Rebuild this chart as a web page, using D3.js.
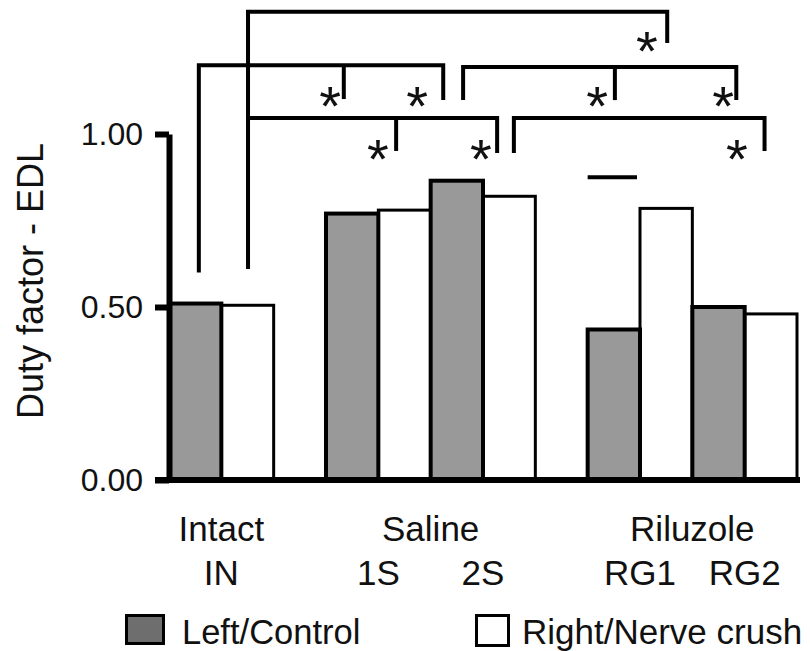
<!DOCTYPE html>
<html><head><meta charset="utf-8">
<script src="https://cdn.jsdelivr.net/npm/d3@7"></script>
<style>
html,body{margin:0;padding:0;background:#fff;}
svg{display:block;}
text{font-family:"Liberation Sans",Arial,sans-serif;fill:#111;}
</style></head><body>
<svg id="chart" width="810" height="651"></svg>
<script>
// ---- data ----
const groups = ["IN", "1S", "2S", "RG1", "RG2"];
const treatments = ["Intact", "Saline", "Saline", "Riluzole", "Riluzole"];
const leftControl = [0.51, 0.77, 0.865, 0.435, 0.50];
const rightCrush  = [0.505, 0.78, 0.82, 0.785, 0.48];
const seriesNames = ["Left/Control", "Right/Nerve crush"];
const yTicks = [0, 0.5, 1];
const yLabel = "Duty factor - EDL";
// horizontal marker above RG1 (value units)
const markerGroup = "RG1";
const markerValue = 0.875;
// significance brackets, positions in slot units (x) and duty-factor units (y)
const bracketLegs = [          // [xSlot, bottomValue] pairs joined at level
  [[1.51, 0.61], [9.52, 1.263]],
  [[0.57, 0.60], [5.24, 1.098]],
  [[5.62, 1.098], [10.84, 1.098]],
  [[1.51, 1.046], [6.27, 0.945]],
  [[6.59, 0.945], [11.38, 0.951]]
];
const bracketLevels = [1.353, 1.199, 1.194, 1.046, 1.046];
const bracketTicks = [[], [3.34], [8.52], [4.34], []];
const bracketTickEnds = [0, 1.101, 1.098, 0.951, 0];
const starX = [9.13, 3.08, 4.74, 8.18, 10.59, 3.99, 5.96, 10.85];
const starY = [1.277, 1.117, 1.117, 1.117, 1.117, 0.963, 0.963, 0.963];

// ---- layout ----
const svg = d3.select("#chart");
svg.append("rect").attr("width", 810).attr("height", 651).attr("fill", "#fff");

// slot positions: 2 slots per group, one empty slot between treatments
const slotStart = [];
let gapCount = 0;
groups.forEach((g, i) => {
  if (i > 0 && treatments[i] !== treatments[i - 1]) gapCount++;
  slotStart.push(i * 2 + gapCount);
});
const nSlots = slotStart[slotStart.length - 1] + 2;

const x = d3.scaleLinear().domain([0, nSlots]).range([169, 797]);
const y = d3.scaleLinear().domain([0, 1]).range([480, 134]);

// bars
const bars = [];
groups.forEach((g, i) => {
  bars.push({slot: slotStart[i], v: rightCrush[i], s: 1});
  bars.push({slot: slotStart[i], v: leftControl[i], s: 0});
});
svg.append("g").selectAll("rect").data(bars).join("rect")
  .attr("x", d => x(d.slot + d.s))
  .attr("width", d => x(d.slot + 1) - x(d.slot))
  .attr("y", d => y(d.v))
  .attr("height", d => y(0) - y(d.v))
  .attr("fill", d => d.s === 0 ? "#999999" : "#ffffff")
  .attr("stroke", "#000")
  .attr("stroke-width", d => d.s === 0 ? 4 : 3);

// y axis
const yAxis = d3.axisLeft(y).tickValues(yTicks).tickFormat(d3.format(".2f"))
  .tickSize(14).tickSizeOuter(0).tickPadding(12);
const ga = svg.append("g").attr("transform", `translate(${x(0)},0)`).call(yAxis);
ga.select(".domain").attr("stroke", "#000").attr("stroke-width", 6);
ga.selectAll(".tick line").attr("stroke", "#000").attr("stroke-width", 6);
ga.selectAll(".tick text").attr("font-size", 32).attr("font-family", "Liberation Sans, Arial, sans-serif").attr("fill", "#111");

// baseline
svg.append("line").attr("x1", x(0) - 14).attr("x2", x(nSlots) + 3)
  .attr("y1", y(0)).attr("y2", y(0)).attr("stroke", "#000").attr("stroke-width", 6);

// y label
svg.append("text").attr("transform", `translate(43,281) rotate(-90)`)
  .attr("text-anchor", "middle").attr("font-size", 36).text(yLabel);

// category labels
const treatNames = [...new Set(treatments)];
treatNames.forEach(t => {
  const idx = treatments.map((d, i) => d === t ? i : -1).filter(i => i >= 0);
  const c = (x(slotStart[idx[0]]) + x(slotStart[idx[idx.length - 1]] + 2)) / 2;
  svg.append("text").attr("x", c).attr("y", 541).attr("text-anchor", "middle")
    .attr("font-size", 35).text(t);
});
groups.forEach((g, i) => {
  svg.append("text").attr("x", x(slotStart[i] + 1)).attr("y", 585).attr("text-anchor", "middle")
    .attr("font-size", 35).text(g);
});

// marker line
const mi = groups.indexOf(markerGroup);
svg.append("line").attr("x1", x(slotStart[mi])).attr("x2", x(slotStart[mi] + 1) - 3)
  .attr("y1", y(markerValue)).attr("y2", y(markerValue))
  .attr("stroke", "#000").attr("stroke-width", 4);

// brackets
const gb = svg.append("g").attr("fill", "none").attr("stroke", "#000").attr("stroke-width", 4)
  .attr("stroke-linejoin", "miter").attr("stroke-linecap", "butt");
const line = d3.line().x(d => x(d[0])).y(d => y(d[1]));
bracketLegs.forEach((legs, i) => {
  const lv = bracketLevels[i];
  gb.append("path").attr("d", line([legs[0], [legs[0][0], lv], [legs[1][0], lv], legs[1]]));
  bracketTicks[i].forEach(t => {
    gb.append("path").attr("d", line([[t, lv], [t, bracketTickEnds[i]]]));
  });
});

// stars
const starSize = 56;
starX.forEach((sx, i) => {
  svg.append("text").attr("x", x(sx)).attr("y", y(starY[i]) + starSize * 0.56)
    .attr("text-anchor", "middle").attr("font-size", starSize)
    .attr("font-family", "DejaVu Sans, sans-serif").text("*");
});

// legend
svg.append("rect").attr("x", 126.5).attr("y", 615.5).attr("width", 37).attr("height", 28)
  .attr("fill", "#6e6e6e").attr("stroke", "#000").attr("stroke-width", 3);
svg.append("text").attr("x", 182).attr("y", 643.5).attr("font-size", 34.5).text(seriesNames[0]);
svg.append("rect").attr("x", 476.5).attr("y", 615.5).attr("width", 32).attr("height", 30)
  .attr("fill", "#fff").attr("stroke", "#000").attr("stroke-width", 3);
svg.append("text").attr("x", 522).attr("y", 643.5).attr("font-size", 35).text(seriesNames[1]);
</script>
</body></html>
